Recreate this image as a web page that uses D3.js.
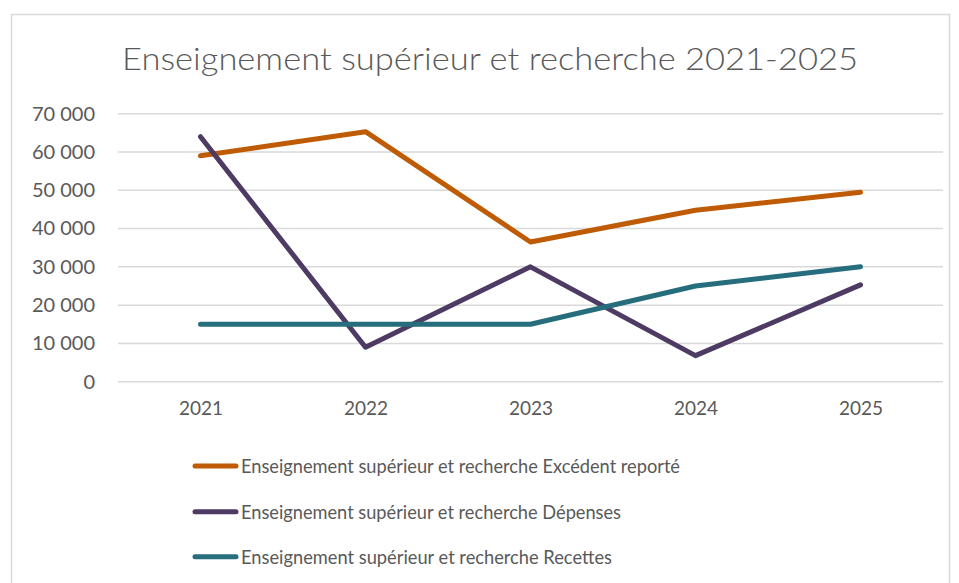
<!DOCTYPE html>
<html>
<head>
<meta charset="utf-8">
<script src="https://cdn.jsdelivr.net/npm/d3@7"></script>
<style>
  body { margin: 0; background: #fff; }
  text { font-family: Lato, "Open Sans", sans-serif; fill: #595959; }
</style>
</head>
<body>
<div id="chart"></div>
<script>
// data
var years = ["2021", "2022", "2023", "2024", "2025"];
var excedent = [59000, 65300, 36500, 44800, 49500];
var depenses = [64000, 9000, 30000, 6800, 25300];
var recettes = [15000, 15000, 15000, 25000, 30000];
var seriesNames = [
    "Enseignement supérieur et recherche Excédent reporté",
    "Enseignement supérieur et recherche Dépenses",
    "Enseignement supérieur et recherche Recettes"
];
var seriesColors = ["#BF5B04", "#4E3B63", "#266E7D"];
var yTicks = [0, 10000, 20000, 30000, 40000, 50000, 60000, 70000];

var svgWidth = 959;
var svgHeight = 583;

var chartMargin = { top: 113.7, right: 16, left: 118, bottom: 201.3 };
var chartWidth = svgWidth - chartMargin.left - chartMargin.right;
var chartHeight = svgHeight - chartMargin.top - chartMargin.bottom;

var svg = d3.select("#chart")
    .append("svg")
    .attr("width", svgWidth)
    .attr("height", svgHeight);

// chart area border
svg.append("rect")
    .attr("x", 11.5)
    .attr("y", 14.5)
    .attr("width", 938)
    .attr("height", 600)
    .attr("fill", "none")
    .attr("stroke", "#D9D9D9")
    .attr("stroke-width", 1.5);

svg.append("text")
    .attr("x", 490)
    .attr("y", 70)
    .attr("text-anchor", "middle")
    .attr("font-size", 31)
    .attr("font-weight", 300)
    .attr("textLength", 736)
    .attr("lengthAdjust", "spacingAndGlyphs")
    .text("Enseignement supérieur et recherche 2021-2025");

var chartGroup = svg.append("g")
    .attr("transform", `translate(${chartMargin.left}, ${chartMargin.top})`);

var xScale = d3.scalePoint()
    .domain(years)
    .range([0, chartWidth])
    .padding(0.5);

var yScale = d3.scaleLinear()
    .domain([0, 70000])
    .range([chartHeight, 0]);

var fmt = d => d3.format(",")(d).replace(/,/g, " ");

// gridlines
chartGroup.selectAll(".grid")
    .data(yTicks)
    .enter()
    .append("line")
    .attr("x1", 0)
    .attr("x2", chartWidth)
    .attr("y1", d => yScale(d))
    .attr("y2", d => yScale(d))
    .attr("stroke", "#D9D9D9")
    .attr("stroke-width", 1.5);

var leftAxis = d3.axisLeft(yScale).tickValues(yTicks).tickFormat(fmt).tickSize(0).tickPadding(23);
var yAxis = chartGroup.append("g").call(leftAxis);
yAxis.select(".domain").remove();
yAxis.selectAll("text").attr("font-size", 20).attr("fill", "#595959");

var bottomAxis = d3.axisBottom(xScale).tickSize(0).tickPadding(20);
var xAxis = chartGroup.append("g")
    .attr("transform", `translate(0, ${chartHeight})`)
    .call(bottomAxis);
xAxis.select(".domain").remove();
xAxis.selectAll("text").attr("font-size", 19).attr("fill", "#595959");

var allSeries = [excedent, depenses, recettes];

var line = d3.line()
    .x((d, i) => xScale(years[i]))
    .y(d => yScale(d));

chartGroup.selectAll(".series")
    .data(allSeries)
    .enter()
    .append("path")
    .attr("d", d => line(d))
    .attr("fill", "none")
    .attr("stroke", (d, i) => seriesColors[i])
    .attr("stroke-width", 5)
    .attr("stroke-linejoin", "round")
    .attr("stroke-linecap", "round");

// legend
var legend = svg.append("g");
var legendRows = [466, 511.7, 556.7];
var legendLengths = [439, 380, 371];

legend.selectAll("line")
    .data(seriesNames)
    .enter()
    .append("line")
    .attr("x1", 195)
    .attr("x2", 236)
    .attr("y1", (d, i) => legendRows[i])
    .attr("y2", (d, i) => legendRows[i])
    .attr("stroke", (d, i) => seriesColors[i])
    .attr("stroke-width", 5)
    .attr("stroke-linecap", "round");

legend.selectAll("text")
    .data(seriesNames)
    .enter()
    .append("text")
    .attr("x", 241)
    .attr("y", (d, i) => legendRows[i] + 7)
    .attr("font-size", 19.5)
    .attr("textLength", (d, i) => legendLengths[i])
    .attr("lengthAdjust", "spacingAndGlyphs")
    .text(d => d);
</script>
</body>
</html>
